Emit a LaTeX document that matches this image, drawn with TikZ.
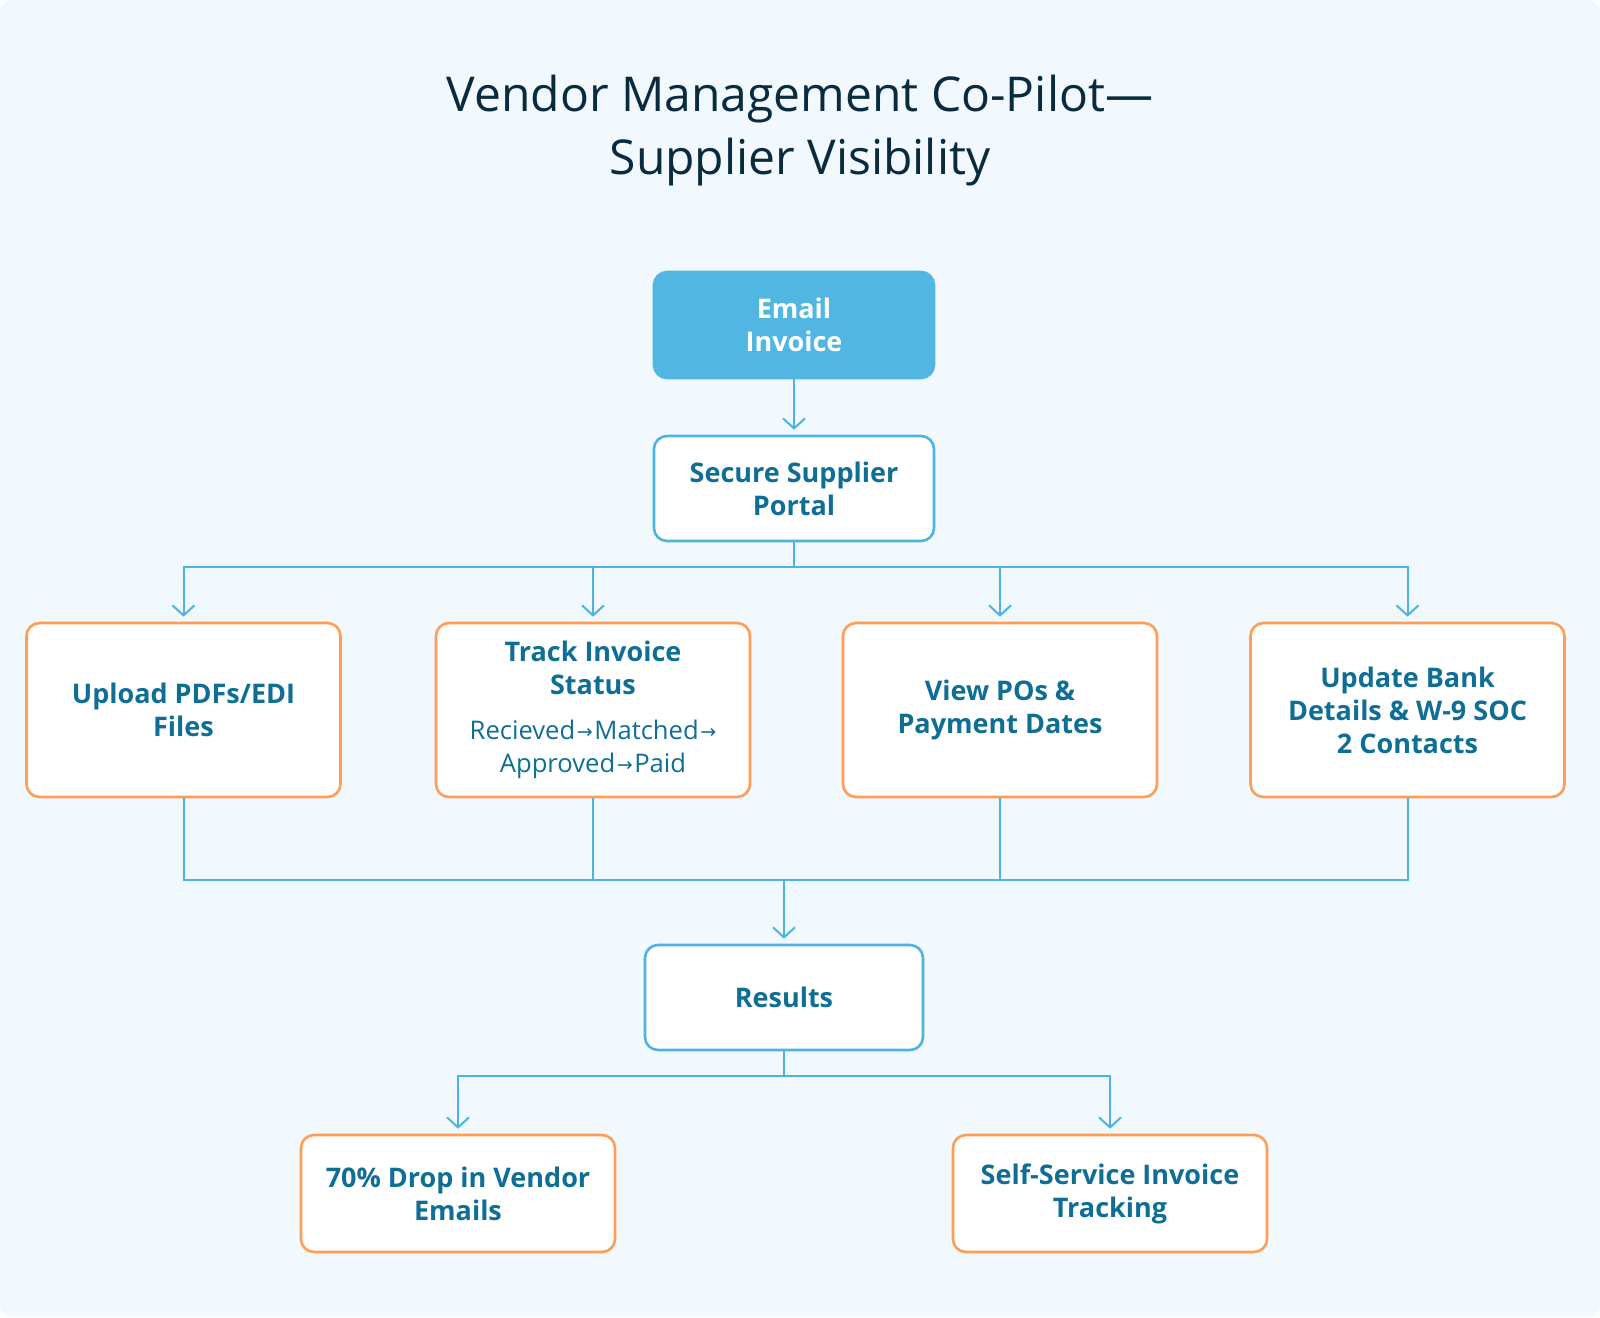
\documentclass[tikz,border=0pt]{standalone}
\usepackage{fontspec}
\setmainfont{Open Sans}
\newfontfamily\arrfont{DejaVu Sans}
\usetikzlibrary{arrows.meta}
\definecolor{bgc}{HTML}{F1F8FE}
\definecolor{lineblue}{HTML}{4DB3E1}
\definecolor{emailfill}{HTML}{52B6E3}
\definecolor{teal}{HTML}{0F6E96}
\definecolor{orangeb}{HTML}{FF9D57}
\definecolor{titlec}{HTML}{0C2A3D}
\newcommand\myarr{\hspace{0.8pt}\raisebox{0.5pt}{\arrfont\fontsize{9.5}{9.5}\selectfont →}\hspace{0.8pt}}
\newcommand\subf{\fontsize{12.8}{16}\mdseries\selectfont}
\tikzset{
  basebox/.style={rounded corners=6.5pt, line width=1.3pt, align=center, inner sep=0pt,
    text=teal, font=\fontsize{13.5}{16.5}\selectfont\bfseries},
  bluebox/.style={basebox, draw=lineblue, fill=white},
  orangebox/.style={basebox, draw=orangeb, fill=white, minimum width=157pt, minimum height=87pt},
  resbox/.style={basebox, draw=orangeb, fill=white, minimum width=157pt, minimum height=58.5pt},
  conn/.style={draw=lineblue, line width=1pt},
  arr/.style={conn, -{Straight Barb[length=5pt,width=11pt,line width=1pt]}, shorten >=2.5pt},
  titletext/.style={text=titlec, font=\fontsize{24}{28}\selectfont, anchor=base, inner sep=0pt}
}
\begin{document}
\begin{tikzpicture}[x=0.5pt,y=-0.5pt]
\useasboundingbox (0,0) rectangle (1600,1317);
\fill[white] (0,0) rectangle (1600,1317);
\fill[bgc, rounded corners=6pt] (0,0) rectangle (1600,1317);

\node[titletext] (t1) at (800,111) {Vendor Management Co-Pilot—};
\node[titletext] (t2) at (800,174) {Supplier Visibility};

\node[basebox, fill=emailfill, draw=emailfill, text=white, minimum width=140pt, minimum height=53pt] (email) at (794,325) {Email\\Invoice};
\node[bluebox, minimum width=140pt, minimum height=52.5pt] (sec) at (794,488.5) {Secure Supplier\\Portal};

\node[orangebox] (b1) at (183.5,710) {Upload PDFs/EDI\\Files};
\node[orangebox] (b2) at (593,710) {Track Invoice\\Status\\[6pt]\subf Recieved\myarr Matched\myarr\\\subf Approved\myarr Paid};
\node[orangebox] (b3) at (1000,710) {View POs \&\\Payment Dates};
\node[orangebox] (b4) at (1407.5,710) {Update Bank\\Details \& W-9 SOC\\2 Contacts};

\node[bluebox, minimum width=139pt, minimum height=52.5pt] (res) at (784,997.5) {Results};

\node[resbox] (r1) at (458,1193.5) {70\% Drop in Vendor\\Emails};
\node[resbox] (r2) at (1110,1193.5) {Self-Service Invoice\\Tracking};

\coordinate (bar1) at (794,567);
\coordinate (bar2) at (784,880);
\coordinate (bar3) at (784,1076);

\draw[arr] (email) -- (sec);
\draw[conn] (sec.south) -- (bar1);
\foreach \b in {b1,b2,b3,b4} {
  \draw[arr] (bar1) -| (\b.north);
  \draw[conn] (\b.south) |- (bar2);
}
\draw[arr] (bar2) -- (res.north);
\draw[conn] (res.south) -- (bar3);
\draw[arr] (bar3) -| (r1.north);
\draw[arr] (bar3) -| (r2.north);
\end{tikzpicture}
\end{document}
